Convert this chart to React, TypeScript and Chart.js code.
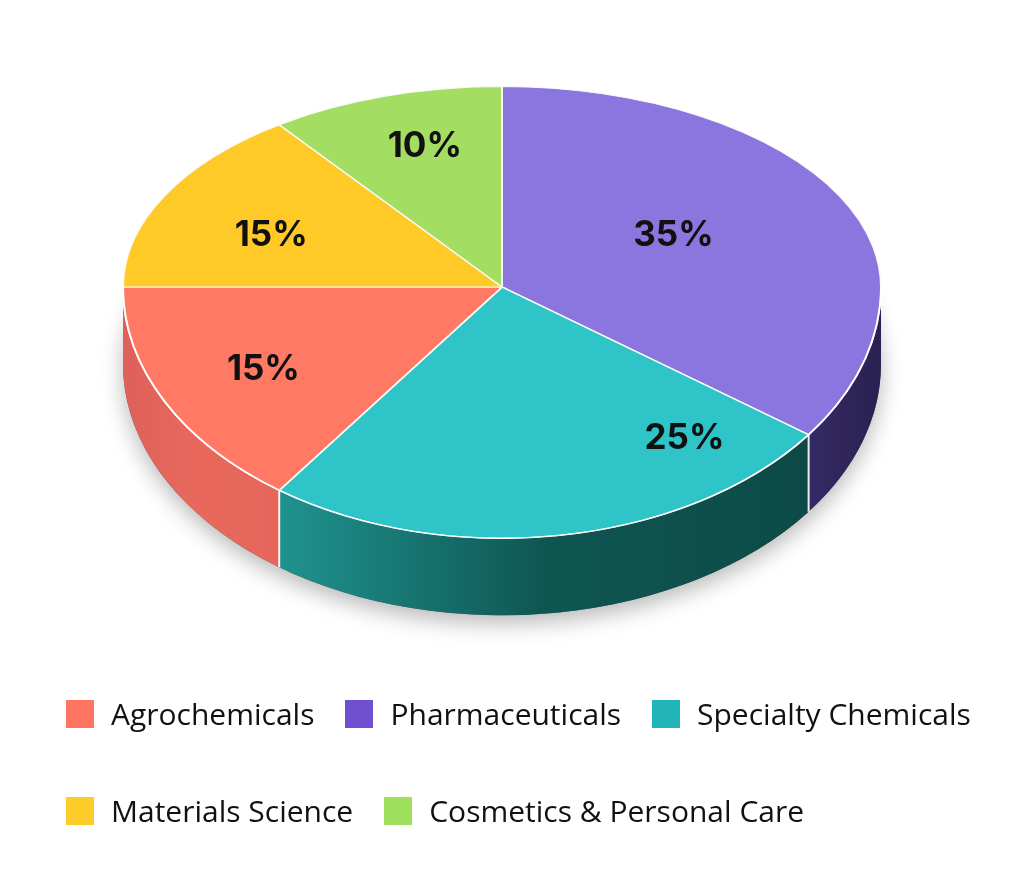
import { useEffect, useRef } from "react"
import { Chart, registerables } from "chart.js"

Chart.register(...registerables)

// slices in clockwise order starting at 12 o'clock
const categories = ["Pharmaceuticals", "Specialty Chemicals", "Agrochemicals", "Materials Science", "Cosmetics & Personal Care"]
const shares = [35, 25, 15, 15, 10]
const legendOrder = ["Agrochemicals", "Pharmaceuticals", "Specialty Chemicals", "Materials Science", "Cosmetics & Personal Care"]

const topColors = ["#8b75de", "#2ec4c8", "#ff7965", "#ffc928", "#a3de63"]
const sideColors = [
  ["#352a68", "#2f2559", "#2a2152"],
  ["#1f938f", "#0f5653", "#0d4a47"],
  ["#df605a", "#e8695c", "#e5665a"],
  ["#d9a61e", "#c99410", "#b88508"],
  ["#86bb4c", "#78aa40", "#6a9a36"],
]
const legendColors = {
  "Agrochemicals": "#ff7561",
  "Pharmaceuticals": "#7050d0",
  "Specialty Chemicals": "#21b4b9",
  "Materials Science": "#ffcb2b",
  "Cosmetics & Personal Care": "#a0e05f",
} as Record<string, string>

// label spot inside each slice: [fraction of the sweep, fraction of the radius]
const labelSpots = [
  [0.48, 0.52],
  [0.17, 0.77],
  [0.49, 0.71],
  [0.42, 0.66],
  [0.55, 0.73],
]

// fake perspective: the far half is squashed more than the near half
const TILT_BACK = 0.529
const TILT_FRONT = 0.663
const DEPTH = 77

const tiltPlugin = {
  id: "tilt3d",
  beforeDatasetsDraw(chart: any) {
    const ctx: CanvasRenderingContext2D = chart.ctx
    const arcs = chart.getDatasetMeta(0).data as any[]
    if (!arcs.length) return
    const { top } = chart.chartArea
    const { x: cx, y: cy, outerRadius: R } = arcs[0].getProps(["x", "y", "outerRadius"], true)
    const yc = Math.round(top + TILT_BACK * R)
    const ty = (y: number) => (y < cy ? yc + TILT_BACK * (y - cy) : yc + TILT_FRONT * (y - cy))
    const ry = R * TILT_FRONT
    const W = chart.width
    const H = chart.height

    // soft shadow under the disc
    ctx.save()
    ctx.shadowColor = "rgba(0,0,0,0.28)"
    ctx.shadowBlur = 22
    ctx.shadowOffsetY = 8
    ctx.beginPath()
    ctx.ellipse(cx, yc + DEPTH, R, ry, 0, 0, Math.PI * 2)
    ctx.fillStyle = "#555"
    ctx.fill()
    ctx.restore()

    // visible side walls (front half)
    arcs.forEach((arc, i) => {
      const { startAngle, endAngle } = arc.getProps(["startAngle", "endAngle"], true)
      const a1 = Math.max(startAngle, 0)
      const a2 = Math.min(endAngle, Math.PI)
      if (a1 >= a2) return
      const xl = cx + R * Math.cos(a2)
      const xr = cx + R * Math.cos(a1)
      const g = ctx.createLinearGradient(xl, 0, xr, 0)
      const stops = sideColors[i]
      stops.forEach((c, j) => g.addColorStop(j / (stops.length - 1), c))
      ctx.beginPath()
      ctx.ellipse(cx, yc, R, ry, 0, a1, a2)
      ctx.ellipse(cx, yc + DEPTH, R, ry, 0, a2, a1, true)
      ctx.closePath()
      ctx.fillStyle = g
      ctx.fill()
    })

    // seams between walls
    ctx.save()
    ctx.strokeStyle = "rgba(255,255,255,0.9)"
    ctx.lineWidth = 2
    arcs.forEach((arc) => {
      const { startAngle } = arc.getProps(["startAngle"], true)
      if (startAngle > 0 && startAngle < Math.PI) {
        const x = cx + R * Math.cos(startAngle)
        const y = yc + ry * Math.sin(startAngle)
        ctx.beginPath()
        ctx.moveTo(x, y)
        ctx.lineTo(x, y + DEPTH)
        ctx.stroke()
      }
    })
    ctx.restore()

    // top face: near half
    ctx.save()
    ctx.beginPath()
    ctx.rect(0, yc, W, H - yc)
    ctx.clip()
    ctx.translate(0, yc)
    ctx.scale(1, TILT_FRONT)
    ctx.translate(0, -cy)
    arcs.forEach((arc) => arc.draw(ctx))
    ctx.restore()

    // top face: far half (overlaps the near half by a pixel to hide the seam)
    ctx.save()
    ctx.beginPath()
    ctx.rect(0, 0, W, yc + 1)
    ctx.clip()
    ctx.translate(0, yc)
    ctx.scale(1, TILT_BACK)
    ctx.translate(0, -cy)
    arcs.forEach((arc) => arc.draw(ctx))
    ctx.restore()

    // light rim along the front edge
    ctx.save()
    ctx.strokeStyle = "rgba(255,255,255,0.85)"
    ctx.lineWidth = 1.5
    ctx.beginPath()
    ctx.ellipse(cx, yc, R, ry, 0, 0, Math.PI)
    ctx.stroke()
    ctx.restore()

    // percentage labels
    ctx.save()
    ctx.font = "700 35px Inter"
    ctx.fillStyle = "#111111"
    ctx.textAlign = "center"
    ctx.textBaseline = "middle"
    arcs.forEach((arc, i) => {
      const { startAngle, endAngle } = arc.getProps(["startAngle", "endAngle"], true)
      const [f, rf] = labelSpots[i]
      const a = startAngle + (endAngle - startAngle) * f
      const x = cx + Math.cos(a) * R * rf
      const y = ty(cy + Math.sin(a) * R * rf)
      ctx.fillText(`${shares[i]}%`, x, y)
    })
    ctx.restore()

    return false
  },
}

export default function App() {
  const chartRef = useRef<HTMLCanvasElement>(null)
  const chartInstance = useRef<Chart | null>(null)

  useEffect(() => {
    if (!chartRef.current) return
    if (chartInstance.current) chartInstance.current.destroy()
    const ctx = chartRef.current.getContext("2d")
    if (!ctx) return

    chartInstance.current = new Chart(ctx, {
      type: "pie",
      data: {
        labels: categories,
        datasets: [
          {
            data: shares,
            backgroundColor: topColors,
            borderColor: "#fbfbf6",
            borderWidth: 2,
            hoverOffset: 0,
          },
        ],
      },
      options: {
        animation: false,
        responsive: true,
        maintainAspectRatio: false,
        events: [],
        layout: { padding: { top: 87, left: 122, right: 142, bottom: 22 } },
        plugins: {
          legend: { display: false },
          tooltip: { enabled: false },
        },
      },
      plugins: [tiltPlugin],
    })

    return () => {
      if (chartInstance.current) {
        chartInstance.current.destroy()
        chartInstance.current = null
      }
    }
  }, [])

  return (
    <div style={{ position: "fixed", left: 0, top: 0, width: 1024, height: 869, background: "#ffffff" }}>
      <canvas ref={chartRef} />
      <div
        style={{
          position: "absolute",
          left: 66,
          top: 694,
          width: 950,
          display: "flex",
          flexWrap: "wrap",
          rowGap: 57,
          fontFamily: "'Open Sans', sans-serif",
          fontSize: 30,
          color: "#111111",
        }}
      >
        {legendOrder.map((name) => (
          <div key={name} style={{ display: "flex", alignItems: "center", height: 40, marginRight: 31 }}>
            <span style={{ width: 28, height: 28, background: legendColors[name], marginRight: 17, display: "inline-block" }} />
            <span style={{ lineHeight: "40px", whiteSpace: "nowrap" }}>{name}</span>
          </div>
        ))}
      </div>
    </div>
  )
}
